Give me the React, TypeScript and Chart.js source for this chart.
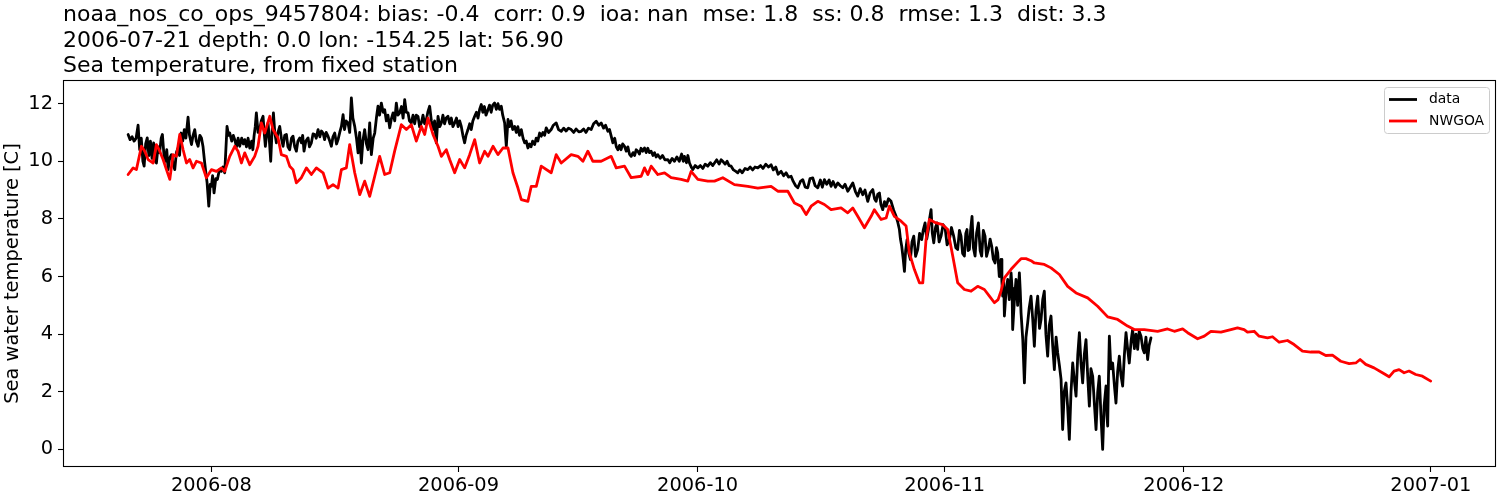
import React, { useEffect, useRef } from "react";
import { Chart, registerables } from "chart.js";

Chart.register(...registerables);

const FONT = '"DejaVu Sans", sans-serif';
const LINE_W = 2.8;

const TITLE_LINES = [
  "noaa_nos_co_ops_9457804: bias: -0.4  corr: 0.9  ioa: nan  mse: 1.8  ss: 0.8  rmse: 1.3  dist: 3.3",
  "2006-07-21 depth: 0.0 lon: -154.25 lat: 56.90",
  "Sea temperature, from fixed station",
];
const Y_LABEL = "Sea water temperature [C]";
const SERIES_NAMES = ["data", "NWGOA"];

// x values are days since 2006-08-01
const MONTH_TICKS = [0, 31, 61, 92, 122, 153];
const MONTH_LABELS = ["2006-08", "2006-09", "2006-10", "2006-11", "2006-12", "2007-01"];
const Y_TICKS = [0, 2, 4, 6, 8, 10, 12];

// observed station data: [day since 2006-08-01, temperature C]
const OBS_JUL_AUG = [
  [-10.45, 10.93], [-10.2, 10.75], [-9.95, 10.85], [-9.7, 10.7], [-9.45, 10.8], [-9.2, 11.25], [-9.0, 10.4], [-8.8, 10.8],
  [-8.6, 10.0], [-8.44, 9.83], [-8.25, 10.6], [-8.05, 10.81], [-7.85, 10.2], [-7.65, 10.7], [-7.45, 10.1], [-7.25, 10.64],
  [-7.05, 10.0], [-6.9, 9.94], [-6.7, 10.5], [-6.5, 10.3], [-6.3, 10.8], [-6.15, 10.93], [-5.95, 10.2], [-5.8, 10.0],
  [-5.6, 10.4], [-5.43, 9.71], [-5.25, 10.1], [-5.02, 10.23], [-4.8, 9.9], [-4.6, 9.71], [-4.4, 10.3], [-4.18, 10.46],
  [-4.0, 10.2], [-3.8, 10.98], [-3.6, 10.7], [-3.4, 11.1], [-3.2, 10.8], [-2.93, 11.53], [-2.75, 10.9], [-2.5, 10.58],
  [-2.3, 10.9], [-2.09, 11.1], [-1.9, 10.7], [-1.67, 10.52], [-1.45, 10.9], [-1.25, 10.81], [-1.05, 10.5], [-0.84, 9.94],
  [-0.54, 9.25], [-0.33, 8.44], [-0.15, 9.2], [0.0, 9.13], [0.15, 9.5], [0.33, 8.9], [0.55, 9.4], [0.75, 9.37],
  [1.0, 9.7], [1.25, 9.65], [1.45, 9.8], [1.67, 9.6], [1.96, 11.21], [2.15, 10.9], [2.3, 10.98], [2.55, 10.7],
  [2.75, 10.9], [2.93, 10.75], [3.15, 10.5], [3.35, 10.8], [3.55, 10.52], [3.8, 10.8], [4.0, 10.6], [4.18, 10.75],
  [4.4, 10.5], [4.6, 10.8], [4.81, 10.46], [5.05, 10.7], [5.2, 10.4], [5.35, 10.87], [5.5, 11.2], [5.64, 11.68],
  [5.85, 11.0], [6.06, 11.1], [6.25, 11.4], [6.48, 11.56], [6.65, 10.9], [6.77, 10.52], [6.95, 11.0], [7.11, 11.33],
  [7.3, 10.6], [7.44, 10.0], [7.6, 11.0], [7.78, 11.68], [7.95, 11.0], [8.15, 10.64], [8.35, 11.0], [8.57, 11.21],
  [8.78, 10.8], [8.99, 10.52], [9.2, 10.9], [9.41, 10.93], [9.6, 10.5], [9.82, 10.4], [10.05, 10.8], [10.24, 10.87],
  [10.45, 10.5], [10.66, 10.35], [10.85, 10.7], [11.08, 10.81],
  [11.29, 10.64], [11.45, 10.9], [11.62, 10.35], [11.85, 10.7], [12.13, 10.81], [12.3, 10.5], [12.54, 10.64], [12.75, 10.95],
  [12.96, 10.93], [13.15, 10.8], [13.38, 11.1], [13.6, 10.85], [13.8, 11.05], [14.01, 10.98], [14.2, 10.75], [14.4, 11.0],
  [14.63, 10.87], [14.85, 10.7], [15.05, 10.52], [15.25, 10.85], [15.47, 10.98], [15.7, 10.6], [15.89, 10.75], [16.1, 11.0],
  [16.31, 11.21], [16.52, 11.62], [16.7, 11.1], [16.9, 11.4], [17.14, 11.33], [17.35, 11.0], [17.56, 12.2], [17.75, 11.5],
  [17.98, 11.21], [18.2, 10.8], [18.4, 10.29], [18.6, 11.0], [18.81, 9.94], [19.0, 10.7], [19.23, 11.1], [19.45, 10.6],
  [19.65, 10.4], [19.86, 11.33], [20.07, 10.23], [20.3, 10.8], [20.49, 10.98], [20.7, 11.5], [20.9, 11.91], [21.1, 11.6],
  [21.32, 12.02], [21.55, 11.7], [21.74, 11.79], [21.95, 11.4], [22.15, 11.6], [22.37, 11.16], [22.6, 11.5], [22.79, 11.68],
  [23.0, 11.4], [23.2, 12.02], [23.4, 11.6], [23.62, 11.68], [23.85, 11.9], [24.05, 11.5], [24.25, 12.14], [24.45, 11.7],
  [24.67, 11.68], [24.85, 11.4], [25.08, 11.33], [25.3, 11.6], [25.5, 11.3], [25.7, 11.6], [25.92, 11.56], [26.12, 11.2],
  [26.34, 11.33], [26.55, 11.6], [26.75, 11.3], [26.97, 11.45], [27.15, 11.7], [27.38, 11.91], [27.6, 11.4], [27.8, 11.1],
  [28.0, 11.4], [28.22, 10.64], [28.43, 11.56], [28.65, 11.2], [28.85, 11.33], [29.05, 11.6], [29.25, 11.3], [29.45, 11.5],
  [29.68, 11.56], [29.9, 11.3], [30.1, 11.5], [30.3, 11.2], [30.52, 11.33],
];
const OBS_SEP_OCT = [
  [30.75, 11.5], [30.95, 11.2], [31.15, 11.4], [31.35, 11.21], [31.55, 10.9], [31.77, 10.64], [31.95, 10.9], [32.19, 11.1],
  [32.4, 11.3], [32.6, 11.1], [32.8, 11.4], [33.03, 11.56], [33.25, 11.7], [33.45, 11.5], [33.65, 11.8], [33.86, 11.97],
  [34.05, 11.7], [34.25, 11.9], [34.45, 11.6], [34.7, 11.79], [34.9, 11.95], [35.1, 11.7], [35.3, 11.95], [35.53, 12.02],
  [35.75, 11.8], [35.95, 12.0], [36.15, 11.8], [36.37, 11.91], [36.55, 11.6], [36.79, 11.33], [37.0, 10.52], [37.21, 11.45],
  [37.4, 11.2], [37.6, 11.4], [37.8, 11.1], [38.04, 11.21], [38.25, 11.0], [38.45, 11.2], [38.65, 10.9], [38.88, 11.1],
  [39.1, 10.8], [39.3, 10.64], [39.5, 10.7], [39.71, 10.46], [39.9, 10.6], [40.1, 10.5], [40.3, 10.7], [40.55, 10.58],
  [40.75, 10.8], [40.95, 10.7], [41.18, 10.98], [41.38, 10.87], [41.6, 11.0], [41.8, 10.9], [42.01, 11.16], [42.3, 11.0],
  [42.63, 11.1], [42.9, 11.25], [43.26, 11.33], [43.55, 11.1], [43.89, 11.04], [44.2, 11.15], [44.5, 11.05], [44.8, 11.15],
  [45.14, 11.1], [45.45, 11.0], [45.75, 11.12], [46.1, 11.02], [46.4, 11.04], [46.7, 11.12], [47.0, 11.0], [47.3, 11.15],
  [47.65, 11.1], [47.95, 11.3], [48.28, 11.39], [48.6, 11.25], [48.9, 11.33], [49.2, 11.15], [49.45, 11.25], [49.74, 11.04],
  [49.95, 11.1], [50.16, 10.87], [50.37, 10.64], [50.6, 10.8], [50.8, 10.5], [51.0, 10.4], [51.2, 10.55], [51.4, 10.4],
  [51.6, 10.6], [51.83, 10.52], [52.05, 10.35], [52.25, 10.5], [52.45, 10.25], [52.67, 10.17], [52.9, 10.3], [53.1, 10.2],
  [53.3, 10.4], [53.5, 10.35], [53.7, 10.25], [53.9, 10.45], [54.1, 10.35], [54.34, 10.46], [54.55, 10.3], [54.75, 10.45],
  [54.95, 10.3], [55.17, 10.35], [55.4, 10.2], [55.6, 10.3], [55.8, 10.15], [56.01, 10.23], [56.3, 10.1], [56.6, 10.2],
  [56.9, 10.05], [57.26, 10.06], [57.5, 9.95], [57.8, 10.1], [58.1, 10.0], [58.4, 10.15], [58.7, 10.0], [59.0, 10.25],
  [59.2, 10.0], [59.35, 10.17], [59.6, 9.95], [59.78, 10.2], [59.98, 9.94], [60.2, 9.8], [60.4, 9.71], [60.7, 9.85],
  [61.03, 9.77], [61.35, 9.85], [61.65, 9.75], [61.95, 9.9], [62.28, 9.83], [62.6, 9.95], [62.9, 9.85], [63.12, 9.94],
  [63.4, 10.05], [63.7, 9.9], [63.95, 10.05], [64.16, 10.0], [64.45, 9.9], [64.7, 10.0], [64.95, 9.85], [65.21, 9.83],
  [65.5, 9.7], [65.8, 9.65], [66.04, 9.6], [66.3, 9.7], [66.6, 9.6], [66.95, 9.75], [67.3, 9.71], [67.6, 9.8],
  [67.9, 9.7], [68.2, 9.8], [68.55, 9.77], [68.9, 9.85], [69.2, 9.75], [69.55, 9.9], [69.9, 9.8], [70.22, 9.88],
  [70.5, 9.7], [70.8, 9.8], [71.1, 9.55], [71.48, 9.65], [71.8, 9.5], [72.1, 9.6], [72.4, 9.45], [72.73, 9.48],
  [73.0, 9.3], [73.3, 9.15], [73.57, 9.08], [73.9, 9.3], [74.2, 9.36], [74.5, 9.1], [74.82, 9.08], [75.1, 9.4],
  [75.45, 9.42], [75.75, 9.15], [76.08, 9.08], [76.4, 9.35], [76.65, 9.1], [76.91, 9.36], [77.2, 9.2], [77.5, 9.35],
  [77.75, 9.13], [78.0, 9.3], [78.3, 9.1], [78.59, 9.25], [78.9, 9.15], [79.21, 9.08], [79.5, 9.2], [79.84, 8.96],
  [80.15, 9.1], [80.47, 9.25], [80.8, 8.95], [81.09, 8.79], [81.4, 9.05], [81.72, 8.84], [82.0, 9.0], [82.35, 8.61],
  [82.65, 8.9], [82.98, 9.02], [83.2, 8.7], [83.39, 8.61], [83.6, 8.85], [83.81, 8.9], [84.0, 8.5], [84.23, 8.32],
  [84.45, 8.6], [84.65, 8.44], [84.95, 8.7], [85.27, 8.61], [85.6, 8.3], [85.9, 8.09],
];
const OBS_NOV = [
  [86.1, 7.9], [86.32, 7.63], [86.45, 7.3], [86.61, 7.05], [86.8, 6.6], [86.95, 6.18], [87.1, 6.9], [87.28, 7.28],
  [87.5, 6.8], [87.7, 6.59], [87.9, 7.2], [88.12, 7.4], [88.35, 6.7], [88.62, 6.94], [88.85, 7.5], [89.12, 7.28],
  [89.3, 7.6], [89.54, 7.86], [89.75, 7.3], [89.96, 7.63], [90.1, 8.0], [90.29, 8.32], [90.45, 7.5], [90.63, 7.17],
  [90.85, 7.7], [91.04, 7.86], [91.3, 7.2], [91.54, 7.4], [91.8, 7.8], [92.05, 7.69], [92.3, 7.1], [92.59, 7.28],
  [92.85, 7.7], [93.13, 7.4], [93.4, 7.0], [93.63, 6.94], [93.85, 7.6], [94.05, 7.4], [94.25, 6.8], [94.47, 6.71],
  [94.65, 7.5], [94.8, 7.63], [94.95, 6.9], [95.1, 6.94], [95.25, 7.6], [95.43, 8.09], [95.6, 7.0], [95.81, 6.71],
  [96.0, 7.5], [96.23, 7.86], [96.45, 6.9], [96.64, 6.71], [96.85, 7.6], [97.06, 7.4], [97.25, 6.7], [97.48, 6.94],
  [97.7, 7.3], [97.9, 7.05], [98.1, 6.6], [98.32, 6.47], [98.5, 7.0], [98.65, 6.82], [98.85, 6.0], [99.07, 6.59],
  [99.18, 5.8], [99.28, 5.32], [99.4, 5.9], [99.49, 4.63], [99.7, 5.5], [99.91, 5.9], [100.1, 5.2], [100.33, 6.13],
  [100.45, 5.6], [100.53, 4.16], [100.75, 5.2], [100.95, 5.9], [101.15, 5.0], [101.37, 6.13], [101.48, 5.5], [101.58, 4.74],
  [101.8, 3.8], [102.0, 2.31], [102.2, 3.9], [102.41, 4.39], [102.6, 4.9], [102.83, 5.32], [103.05, 4.5], [103.25, 3.58],
  [103.45, 4.8], [103.67, 5.32], [103.9, 4.2], [104.09, 4.51], [104.3, 5.2], [104.5, 5.49], [104.7, 4.0], [104.92, 3.24],
  [105.12, 4.3], [105.34, 4.63], [105.55, 3.6], [105.76, 2.77], [105.98, 3.9], [106.18, 3.35], [106.4, 2.9], [106.6, 2.43],
  [106.8, 0.69], [107.0, 2.0], [107.22, 2.31], [107.42, 1.5], [107.64, 0.35], [107.85, 2.0], [108.06, 3.0], [108.27, 2.4],
  [108.48, 1.85], [108.7, 3.3], [108.9, 4.05], [109.1, 3.0], [109.31, 2.31], [109.52, 3.3], [109.73, 3.81], [109.95, 2.5],
  [110.15, 1.5], [110.35, 2.8], [110.57, 2.54], [110.8, 1.5], [110.99, 0.69], [111.2, 2.0], [111.4, 2.54], [111.6, 1.2],
  [111.82, 0.0], [112.0, 1.5], [112.24, 2.2], [112.35, 1.2], [112.45, 0.81], [112.55, 2.5], [112.66, 3.93], [112.85, 2.8],
  [113.07, 3.0], [113.3, 2.2], [113.49, 1.61], [113.7, 2.7], [113.91, 3.24], [114.1, 2.6], [114.33, 2.2], [114.55, 3.3],
  [114.75, 4.05], [114.95, 3.5], [115.16, 3.0], [115.4, 3.8], [115.58, 4.16], [115.8, 3.5], [116.0, 4.0], [116.21, 3.47],
  [116.4, 4.1], [116.63, 3.93], [116.85, 3.5], [117.04, 3.35], [117.25, 3.9], [117.46, 3.12], [117.65, 3.6], [117.88, 3.87],
];

// NWGOA model: [day since 2006-08-01, temperature C]
const MODEL_JUL_SEP = [
  [-10.45, 9.54], [-9.82, 9.77], [-9.41, 9.71], [-8.78, 10.52], [-8.36, 10.35], [-7.94, 10.06], [-7.31, 9.94], [-6.9, 10.58],
  [-6.48, 10.35], [-6.06, 10.06], [-5.64, 9.71], [-5.22, 9.37], [-4.81, 10.23], [-4.39, 10.17], [-3.97, 10.93], [-3.55, 10.4],
  [-3.13, 9.94], [-2.72, 10.06], [-2.3, 9.77], [-1.88, 10.0], [-1.25, 9.94], [-0.63, 9.43], [0.0, 9.71], [0.63, 9.65],
  [1.25, 9.77], [1.67, 9.65], [2.3, 10.17], [2.93, 10.52], [3.34, 10.35], [3.76, 9.94], [4.18, 10.29], [4.81, 9.88],
  [5.43, 10.17], [5.85, 10.52], [6.27, 11.33], [6.69, 10.98], [7.32, 11.56], [7.73, 11.1], [8.36, 10.81], [8.78, 10.23],
  [9.41, 10.17], [9.82, 9.83], [10.24, 9.71], [10.66, 9.25], [11.08, 9.37], [11.29, 9.43], [11.92, 9.77], [12.54, 9.54],
  [13.17, 9.77], [14.01, 9.6], [14.63, 9.07], [15.26, 9.19], [15.89, 9.07], [16.31, 9.71], [16.93, 9.77], [17.35, 10.58],
  [17.98, 9.6], [18.61, 8.84], [19.23, 9.31], [19.86, 8.78], [20.49, 9.48], [21.11, 10.17], [21.74, 9.54], [22.37, 9.6],
  [22.99, 10.35], [23.83, 11.27], [24.46, 11.1], [25.08, 11.27], [25.71, 10.7], [26.34, 11.21], [26.76, 10.93], [27.17, 11.5],
  [27.8, 10.93], [28.43, 10.52], [28.85, 10.17], [29.47, 10.4], [29.89, 10.06], [30.52, 9.6], [31.15, 10.06], [31.77, 9.77],
  [32.4, 10.23], [33.03, 10.75], [33.65, 9.94], [34.28, 10.35], [34.7, 10.17], [35.33, 10.52], [35.95, 10.23], [36.58, 10.46],
  [37.21, 10.46], [37.83, 9.6], [38.46, 9.07], [38.88, 8.67], [39.71, 8.61], [40.13, 9.13], [40.76, 9.13],
];
const MODEL_SEP_NOV = [
  [41.38, 9.83], [42.63, 9.6], [43.26, 10.23], [43.89, 9.94], [45.14, 10.23], [45.98, 10.17], [46.61, 10.0], [47.23, 10.35],
  [47.86, 10.0], [48.9, 10.0], [50.16, 10.17], [50.79, 9.77], [51.83, 9.83], [52.67, 9.43], [53.92, 9.48], [54.34, 9.77],
  [54.76, 9.54], [55.17, 9.83], [56.01, 9.54], [56.85, 9.6], [57.68, 9.43], [58.94, 9.37], [59.77, 9.31], [60.19, 9.65],
  [61.03, 9.37], [62.28, 9.31], [63.12, 9.31], [64.16, 9.43], [65.62, 9.19], [67.3, 9.13], [68.55, 9.07], [70.22, 9.13],
  [71.06, 8.96], [71.48, 8.96], [72.32, 8.96], [73.15, 8.55], [73.99, 8.44], [74.62, 8.15], [75.24, 8.44], [76.08, 8.61],
  [76.91, 8.5], [77.75, 8.32], [79.0, 8.38], [79.84, 8.21], [80.47, 8.38], [81.09, 8.09], [81.93, 7.69], [82.77, 8.09],
  [83.18, 8.32], [84.02, 7.98], [84.65, 8.03], [85.07, 8.44], [85.69, 8.09], [86.53, 7.92], [87.16, 7.75], [87.57, 6.82],
  [88.2, 6.24], [88.83, 5.78], [89.25, 5.78], [89.66, 7.28], [90.08, 7.98], [90.92, 7.86], [91.75, 7.8], [92.38, 7.63],
  [93.01, 6.71], [93.63, 5.78], [94.47, 5.55], [95.31, 5.49], [96.14, 5.66], [96.98, 5.55], [97.61, 5.32], [98.24, 5.09],
  [98.7, 5.2], [99.07, 5.5], [99.49, 5.95], [100.33, 6.25], [101.16, 6.5], [101.58, 6.62], [102.2, 6.62], [102.83, 6.55],
];
const MODEL_NOV_JAN = [
  [103.25, 6.47], [104.5, 6.42], [105.34, 6.3], [106.39, 6.07], [107.43, 5.66], [108.48, 5.43], [109.94, 5.26], [111.19, 4.97],
  [112.45, 4.6], [113.7, 4.51], [114.95, 4.28], [115.79, 4.16], [117.04, 4.16], [118.72, 4.1], [119.97, 4.18], [120.81, 4.1],
  [121.85, 4.18], [122.48, 4.05], [123.73, 3.84], [124.57, 3.93], [125.4, 4.1], [126.66, 4.07], [127.9, 4.16], [128.74, 4.22],
  [129.57, 4.16], [129.99, 4.07], [130.83, 4.1], [131.45, 3.93], [132.5, 3.87], [133.13, 3.91], [133.96, 3.72], [135.01, 3.78],
  [135.84, 3.64], [136.89, 3.41], [137.93, 3.38], [138.98, 3.38], [139.81, 3.26], [140.65, 3.27], [141.69, 3.06], [142.74, 2.98],
  [143.58, 3.0], [144.12, 3.12], [144.83, 2.95], [145.87, 2.83], [146.92, 2.66], [147.76, 2.52], [148.38, 2.72], [149.01, 2.77],
  [149.64, 2.66], [150.26, 2.72], [151.1, 2.6], [151.94, 2.54], [152.98, 2.37],
];

const X_MIN = -18.62;
const X_MAX = 161.17;
const Y_MIN = -0.61;
const Y_MAX = 12.82;

const decorPlugin = {
  id: "decor",
  afterDraw(chart: any) {
    const { ctx, chartArea: a } = chart;
    ctx.save();
    ctx.strokeStyle = "#000";
    ctx.lineWidth = 1.1;
    ctx.strokeRect(Math.round(a.left) + 0.5, Math.round(a.top) + 0.5, Math.round(a.right - a.left) - 1, Math.round(a.bottom - a.top) - 1);
    ctx.fillStyle = "#000";
    ctx.font = `22px ${FONT}`;
    ctx.textAlign = "left";
    ctx.textBaseline = "alphabetic";
    TITLE_LINES.forEach((t, i) => ctx.fillText(t, a.left, 21 + i * 25.7));
    const bx = a.right - 112;
    const by = a.top + 7;
    const bw = 105;
    const bh = 46;
    ctx.beginPath();
    ctx.roundRect(bx + 0.5, by + 0.5, bw, bh, 3);
    ctx.fillStyle = "rgba(255,255,255,0.8)";
    ctx.fill();
    ctx.strokeStyle = "#cccccc";
    ctx.lineWidth = 1;
    ctx.stroke();
    const colors = ["#000000", "#ff0000"];
    ctx.font = `13.9px ${FONT}`;
    ctx.textBaseline = "middle";
    SERIES_NAMES.forEach((name, i) => {
      const yy = by + 12.5 + i * 21.5;
      ctx.beginPath();
      ctx.moveTo(bx + 5, yy);
      ctx.lineTo(bx + 33, yy);
      ctx.strokeStyle = colors[i];
      ctx.lineWidth = LINE_W;
      ctx.stroke();
      ctx.fillStyle = "#000";
      ctx.fillText(name, bx + 45, yy);
    });
    ctx.restore();
  },
};

const toXY = (pts: number[][]) => pts.map(([x, y]) => ({ x, y }));

export default function App() {
  const ref = useRef<HTMLCanvasElement>(null);
  useEffect(() => {
    if (!ref.current) return;
    const gridCfg = {
      display: true,
      drawOnChartArea: false,
      drawTicks: true,
      tickLength: 5,
      tickColor: "#000",
      tickWidth: 1.1,
    };
    const chart = new Chart(ref.current, {
      type: "line",
      data: {
        datasets: [
          {
            label: SERIES_NAMES[0],
            data: toXY([...OBS_JUL_AUG, ...OBS_SEP_OCT, ...OBS_NOV]),
            borderColor: "#000000",
            borderWidth: LINE_W,
            pointRadius: 0,
            fill: false,
            order: 1,
          },
          {
            label: SERIES_NAMES[1],
            data: toXY([...MODEL_JUL_SEP, ...MODEL_SEP_NOV, ...MODEL_NOV_JAN]),
            borderColor: "#ff0000",
            borderWidth: LINE_W,
            pointRadius: 0,
            fill: false,
            order: 0,
          },
        ],
      },
      options: {
        animation: false,
        responsive: false,
        devicePixelRatio: 1,
        parsing: false as any,
        layout: { padding: { top: 80, right: 4, left: 0, bottom: 0 } },
        elements: { line: { tension: 0, borderJoinStyle: "round", borderCapStyle: "round" } },
        plugins: {
          legend: { display: false },
          tooltip: { enabled: false },
          title: { display: false },
        },
        scales: {
          x: {
            type: "linear",
            min: X_MIN,
            max: X_MAX,
            afterBuildTicks: (s: any) => {
              s.ticks = MONTH_TICKS.map((v) => ({ value: v }));
            },
            afterFit: (s: any) => {
              s.height = 33;
            },
            ticks: {
              autoSkip: false,
              maxRotation: 0,
              padding: 2,
              color: "#000",
              font: { family: FONT, size: 19.4 },
              callback: (_v: any, i: number) => MONTH_LABELS[i],
            },
            grid: gridCfg,
            border: { display: false },
          },
          y: {
            type: "linear",
            min: Y_MIN,
            max: Y_MAX,
            afterBuildTicks: (s: any) => {
              s.ticks = Y_TICKS.map((v) => ({ value: v }));
            },
            afterFit: (s: any) => {
              s.width = 63;
            },
            ticks: {
              autoSkip: false,
              padding: 5,
              color: "#000",
              font: { family: FONT, size: 19.4 },
              callback: (v: any) => String(v),
            },
            grid: gridCfg,
            border: { display: false },
            title: {
              display: true,
              text: Y_LABEL,
              color: "#000",
              font: { family: FONT, size: 19.4 },
              padding: { top: 1.5, bottom: 0 },
            },
          },
        },
      },
      plugins: [decorPlugin],
    } as any);
    return () => chart.destroy();
  }, []);
  return (
    <div style={{ position: "absolute", left: 0, top: 0, width: 1500, height: 500, background: "#fff" }}>
      <canvas ref={ref} width={1500} height={500} style={{ display: "block", width: 1500, height: 500 }} />
    </div>
  );
}
